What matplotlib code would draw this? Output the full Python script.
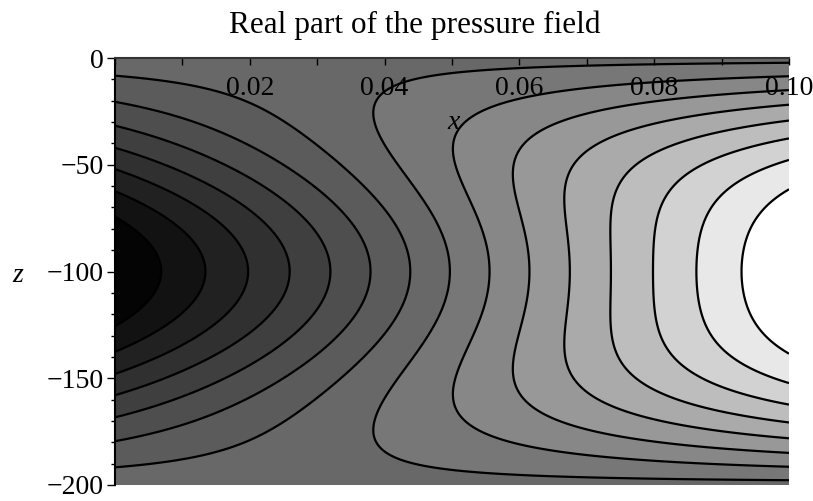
import numpy as np
import matplotlib
matplotlib.use("Agg")
import matplotlib.pyplot as plt
from matplotlib.ticker import MultipleLocator, FixedLocator
from matplotlib.colors import ListedColormap, BoundaryNorm

# ---- data: modal description of the pressure field ----
depth = 200.0                       # waveguide depth (z from 0 to -200)
mode_numbers = [1, 3]               # vertical modes sin(n*pi*|z|/depth)
mode_amplitudes = [2.0, 0.106]      # modal amplitudes
mode_wavenumbers = [12.08, 13.0]    # horizontal wavenumbers
mode_phases = [-2.094, -0.39]       # phases
n_contours = 15                     # number of contour lines
band_grays = [0x04, 0x12, 0x21, 0x30, 0x3f, 0x4e, 0x5b, 0x68,
              0x77, 0x87, 0x98, 0xaa, 0xbd, 0xd2, 0xe8, 0xff]
x_range = [0.0, 0.1]
z_range = [-200.0, 0.0]
x_major_ticks = [0.02, 0.04, 0.06, 0.08, 0.10]
x_tick_labels = ["0.02", "0.04", "0.06", "0.08", "0.10"]
z_major_ticks = [0, -50, -100, -150, -200]
z_tick_labels = ["0", "\u221250", "\u2212100", "\u2212150", "\u2212200"]

# ---- field ----
x = np.linspace(x_range[0], x_range[1], 500)
z = np.linspace(z_range[0], z_range[1], 500)
X, Z = np.meshgrid(x, z)
F = np.zeros_like(X)
for n, a, k, ph in zip(mode_numbers, mode_amplitudes, mode_wavenumbers, mode_phases):
    F += a * np.cos(k * X + ph) * np.sin(n * np.pi * (-Z) / depth)

fmin, fmax = F.min(), F.max()
levels = np.linspace(fmin, fmax, n_contours + 2)
cmap = ListedColormap([(g / 255, g / 255, g / 255) for g in band_grays])
norm = BoundaryNorm(levels, cmap.N)

plt.rcParams['font.family'] = ['Liberation Serif', 'DejaVu Serif']

fig = plt.figure(figsize=(8.13, 5.01), dpi=100)
ax = fig.add_axes([115 / 813, 1 - 485 / 501, (789 - 115) / 813, (485 - 58) / 501])

ax.contourf(X, Z, F, levels=levels, cmap=cmap, norm=norm, antialiased=True)
ax.contour(X, Z, F, levels=levels[1:-1], colors='black', linewidths=1.6,
           linestyles='solid')

ax.set_xlim(*x_range)
ax.set_ylim(*z_range)

for s in ['bottom', 'right']:
    ax.spines[s].set_visible(False)
ax.spines['top'].set_linewidth(1.5)
ax.spines['top'].set_color('#333333')
ax.spines['left'].set_linewidth(1.5)
ax.spines['top'].set_zorder(5)
ax.spines['left'].set_zorder(5)

ax.xaxis.set_ticks_position('top')
ax.xaxis.set_major_locator(FixedLocator(x_major_ticks))
ax.set_xticklabels(x_tick_labels)
ax.xaxis.set_minor_locator(MultipleLocator(0.01))
ax.tick_params(axis='x', which='both', direction='in', length=5, width=1,
               labelsize=20, pad=-31, top=True, bottom=False, labeltop=True,
               labelbottom=False)

ax.yaxis.set_major_locator(FixedLocator(z_major_ticks))
ax.set_yticklabels(z_tick_labels)
ax.yaxis.set_minor_locator(MultipleLocator(10))
ax.tick_params(axis='y', which='major', direction='out', length=6, width=1,
               labelsize=20, pad=2)
ax.tick_params(axis='y', which='minor', direction='out', length=3, width=1)

ax.text(0.0502, -30, 'x', ha='center', va='center', fontsize=20,
        style='italic', zorder=6)
fig.text(18 / 813, 1 - 276 / 501, 'z', ha='center', va='center',
         fontsize=20, style='italic')

fig.text(415 / 813, 1 - 33 / 501, 'Real part of the pressure field',
         ha='center', va='baseline', fontsize=22.5)

fig.savefig('out.png', dpi=100)
